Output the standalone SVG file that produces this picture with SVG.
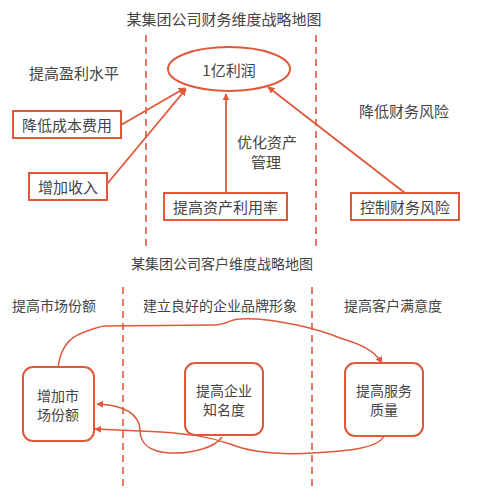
<svg xmlns="http://www.w3.org/2000/svg" width="481" height="504" viewBox="0 0 481 504">
<defs>
<style>
text{font-family:"Noto Sans CJK SC","Liberation Sans",sans-serif;fill:#444;dominant-baseline:central}
.t15{font-size:15px}
.t14{font-size:14px}
.mid{text-anchor:middle}
.box{fill:#fff;stroke:#E0583A;stroke-width:2}
.ln{fill:none;stroke:#E0583A;stroke-width:1.8}
.cv{fill:none;stroke:#E0583A;stroke-width:1.5}
.dash{fill:none;stroke:#E0583A;stroke-width:1.6;stroke-dasharray:7 5}
</style>
<marker id="ah" viewBox="0 0 10 10" refX="9" refY="5" markerWidth="7" markerHeight="7" markerUnits="userSpaceOnUse" orient="auto">
<path d="M0,0 L10,5 L0,10 z" fill="#E0583A"/>
</marker>
</defs>
<rect width="481" height="504" fill="#fff"/>

<g id="dividers">
<line class="dash" x1="146" y1="35" x2="146" y2="247"/>
<line class="dash" x1="316" y1="35" x2="316" y2="247"/>
<line class="dash" x1="123" y1="287" x2="123" y2="488"/>
<line class="dash" x1="312" y1="287" x2="312" y2="488"/>
</g>

<g id="labels">
<text class="t15 mid" x="224" y="18">某集团公司财务维度战略地图</text>
<text class="t15" x="29" y="72">提高盈利水平</text>
<text class="t15" x="359" y="110">降低财务风险</text>
<text class="t15 mid" x="267" y="141">优化资产</text>
<text class="t15 mid" x="266" y="161">管理</text>
<text class="t14 mid" x="222" y="263">某集团公司客户维度战略地图</text>
<text class="t14" x="12" y="305">提高市场份额</text>
<text class="t14" x="143" y="305">建立良好的企业品牌形象</text>
<text class="t14" x="344" y="305">提高客户满意度</text>
</g>

<g id="connectors">
<line class="ln" x1="121" y1="125" x2="185" y2="88" marker-end="url(#ah)"/>
<line class="ln" x1="107" y1="184" x2="186" y2="89" marker-end="url(#ah)"/>
<line class="ln" x1="226" y1="193" x2="226" y2="94" marker-end="url(#ah)"/>
<line class="ln" x1="405" y1="193" x2="268" y2="87" marker-end="url(#ah)"/>
<path class="cv" d="M58,368 C60,350 68,338 82,333 C90,330 96,327 105,326 L215,325 C226,325 230,319 240,319 C265,318 280,322 297,325 C315,329 328,333 340,338 C360,344 374,350 382,363" marker-end="url(#ah)"/>
<path class="cv" d="M222,437 C215,448 190,454 170,453 C148,452 140,442 140,430 C139,412 120,405 97,404" marker-end="url(#ah)"/>
<path class="cv" d="M384,436 C378,448 350,451 313,453 C280,455 250,452 230,444 C210,437 190,433 140,431 L95,429" marker-end="url(#ah)"/>
</g>

<g id="n-profit">
<ellipse class="box" cx="229" cy="69" rx="61" ry="22"/>
<text class="t15 mid" x="229" y="69">1亿利润</text>
</g>
<g id="n-cost">
<rect class="box" x="13" y="111" width="108" height="27"/>
<text class="t15 mid" x="67" y="124.5">降低成本费用</text>
</g>
<g id="n-income">
<rect class="box" x="29" y="173" width="78" height="27"/>
<text class="t15 mid" x="68" y="186.5">增加收入</text>
</g>
<g id="n-asset">
<rect class="box" x="164" y="193" width="123" height="27"/>
<text class="t15 mid" x="225.5" y="206.5">提高资产利用率</text>
</g>
<g id="n-risk">
<rect class="box" x="351" y="193" width="108" height="27"/>
<text class="t15 mid" x="405" y="206.5">控制财务风险</text>
</g>
<g id="n-market">
<rect class="box" x="23" y="367" width="71" height="74" rx="10"/>
<text class="t14 mid" x="58" y="395">增加市</text>
<text class="t14 mid" x="58" y="414">场份额</text>
</g>
<g id="n-brand">
<rect class="box" x="185" y="363" width="78" height="72" rx="10"/>
<text class="t14 mid" x="224" y="390">提高企业</text>
<text class="t14 mid" x="224" y="409">知名度</text>
</g>
<g id="n-service">
<rect class="box" x="345" y="363" width="78" height="73" rx="10"/>
<text class="t14 mid" x="384" y="390">提高服务</text>
<text class="t14 mid" x="384" y="409">质量</text>
</g>
</svg>
